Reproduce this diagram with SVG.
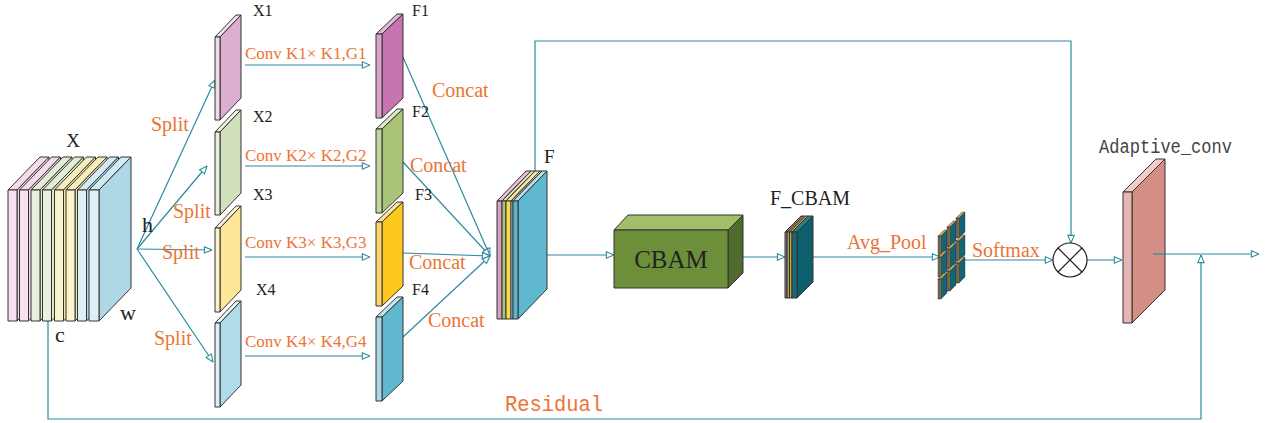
<svg xmlns="http://www.w3.org/2000/svg" width="1265" height="423" viewBox="0 0 1265 423">
<style>
.ln{stroke:#2b8ba0;stroke-width:1.2;fill:none}
.pl{stroke:#333;stroke-width:1;stroke-linejoin:round}
.tl{stroke:#333;stroke-width:0.4}
.or{fill:#ec7434;font-family:"Liberation Serif",serif}
.bk{fill:#222;font-family:"Liberation Serif",serif}
.mono{font-family:"Liberation Mono",monospace}
</style>
<defs>
<marker id="ah" viewBox="0 0 10 10" refX="9.5" refY="5" markerWidth="9" markerHeight="9" markerUnits="userSpaceOnUse" orient="auto">
<path d="M1,1.5 L9.5,5 L1,8.5 Z" fill="#fff" stroke="#2b8ba0" stroke-width="1.2"/>
</marker>
<g id="tile">
<polygon class="tl" points="0,0 6,-6 9,-6 3,0" fill="#d8a040"/>
<rect class="tl" x="0" y="0" width="1" height="20" fill="#c070b0"/>
<rect class="tl" x="1" y="0" width="1" height="20" fill="#8aaa4c"/>
<rect class="tl" x="2" y="0" width="1" height="20" fill="#e0a02c"/>
<polygon class="tl" points="3,0 9,-6 9,14 3,20" fill="#136474"/>
</g>
</defs>

<!-- connectors -->
<g id="connectors">
<path class="ln" d="M137,249 L215,80" marker-end="url(#ah)"/>
<path class="ln" d="M137,249 L207,166" marker-end="url(#ah)"/>
<path class="ln" d="M137,249 L212,250" marker-end="url(#ah)"/>
<path class="ln" d="M137,249 L213,362" marker-end="url(#ah)"/>
<path class="ln" d="M245,65 L370,65" marker-end="url(#ah)"/>
<path class="ln" d="M245,166 L370,166" marker-end="url(#ah)"/>
<path class="ln" d="M245,257 L370,257" marker-end="url(#ah)"/>
<path class="ln" d="M245,356 L370,356" marker-end="url(#ah)"/>
<path class="ln" d="M403,57 L490,256" marker-end="url(#ah)"/>
<path class="ln" d="M403,162 L490,256" marker-end="url(#ah)"/>
<path class="ln" d="M403,253 L490,256" marker-end="url(#ah)"/>
<path class="ln" d="M403,337 L490,256" marker-end="url(#ah)"/>
<path class="ln" d="M547,255 L614,255" marker-end="url(#ah)"/>
<path class="ln" d="M743,257 L785,257" marker-end="url(#ah)"/>
<path class="ln" d="M813,257 L940,257" marker-end="url(#ah)"/>
<path class="ln" d="M964,260 L1053,260" marker-end="url(#ah)"/>
<path class="ln" d="M1087,260 L1122,260" marker-end="url(#ah)"/>
<path class="ln" d="M535,172 L535,41 L1071,41 L1071,243" marker-end="url(#ah)"/>
<path class="ln" d="M1153,254 L1259,254" marker-end="url(#ah)"/>
<path class="ln" d="M48,321 L48,419 L1201,419 L1201,255" marker-end="url(#ah)"/>
</g>

<!-- X input stack -->
<g id="X">
<g><polygon class="pl" points="8,190 40,157 49,157 17,190" fill="#f3dbe9"/><polygon class="pl" points="17,190 49,157 49,288 17,321" fill="#f0d4e4"/><rect class="pl" x="8" y="190" width="9" height="131" fill="#f6e3ef"/></g>
<g><polygon class="pl" points="19.5,190 51.5,157 60.5,157 28.5,190" fill="#f3dbe9"/><polygon class="pl" points="28.5,190 60.5,157 60.5,288 28.5,321" fill="#f0d4e4"/><rect class="pl" x="19.5" y="190" width="9" height="131" fill="#f6e3ef"/></g>
<g><polygon class="pl" points="31,190 63,157 72,157 40,190" fill="#e3ecd5"/><polygon class="pl" points="40,190 72,157 72,288 40,321" fill="#dde7cc"/><rect class="pl" x="31" y="190" width="9" height="131" fill="#e9f1de"/></g>
<g><polygon class="pl" points="42.5,190 74.5,157 83.5,157 51.5,190" fill="#e3ecd5"/><polygon class="pl" points="51.5,190 83.5,157 83.5,288 51.5,321" fill="#dde7cc"/><rect class="pl" x="42.5" y="190" width="9" height="131" fill="#e9f1de"/></g>
<g><polygon class="pl" points="54.5,190 86.5,157 95.5,157 63.5,190" fill="#f9ecbd"/><polygon class="pl" points="63.5,190 95.5,157 95.5,288 63.5,321" fill="#f5e4aa"/><rect class="pl" x="54.5" y="190" width="9" height="131" fill="#fcf3cf"/></g>
<g><polygon class="pl" points="66,190 98,157 107,157 75,190" fill="#f9ecbd"/><polygon class="pl" points="75,190 107,157 107,288 75,321" fill="#f5e4aa"/><rect class="pl" x="66" y="190" width="9" height="131" fill="#fcf3cf"/></g>
<g><polygon class="pl" points="77.5,190 109.5,157 118.5,157 86.5,190" fill="#d2eaf3"/><polygon class="pl" points="86.5,190 118.5,157 118.5,288 86.5,321" fill="#aed8e6"/><rect class="pl" x="77.5" y="190" width="9" height="131" fill="#ddf0f7"/></g>
<g><polygon class="pl" points="89,190 121,157 131,157 99,190" fill="#d2eaf3"/><polygon class="pl" points="99,190 131,157 131,288 99,321" fill="#aed8e6"/><rect class="pl" x="89" y="190" width="10" height="131" fill="#ddf0f7"/></g>
<text class="bk" x="73" y="147" font-size="19" text-anchor="middle">X</text>
<text class="bk" x="142" y="232" font-size="22">h</text>
<text class="bk" x="120" y="320" font-size="22">w</text>
<text class="bk" x="55" y="342" font-size="22">c</text>
</g>

<!-- split labels -->
<g id="split-labels">
<text class="or" x="151" y="131" font-size="20">Split</text>
<text class="or" x="173" y="218" font-size="20">Split</text>
<text class="or" x="162" y="259" font-size="20">Split</text>
<text class="or" x="154" y="345" font-size="20">Split</text>
</g>

<!-- X1..X4 -->
<g id="X1"><polygon class="pl" points="215,37 236,15 241,15 220,37" fill="#f3e2ee"/><polygon class="pl" points="220,37 241,15 241,98 220,120" fill="#dcaed0"/><rect class="pl" x="215" y="37" width="5" height="83" fill="#efdbe9"/><text class="bk" x="253" y="16" font-size="16">X1</text></g>
<g id="X2"><polygon class="pl" points="215,132 236,110 241,110 220,132" fill="#eef3e6"/><polygon class="pl" points="220,132 241,110 241,193 220,215" fill="#d2e0bb"/><rect class="pl" x="215" y="132" width="5" height="83" fill="#e9efdc"/><text class="bk" x="253" y="122" font-size="16">X2</text></g>
<g id="X3"><polygon class="pl" points="215,228 236,206 241,206 220,228" fill="#fdf6dc"/><polygon class="pl" points="220,228 241,206 241,290 220,312" fill="#fde697"/><rect class="pl" x="215" y="228" width="5" height="84" fill="#fdf3cb"/><text class="bk" x="253" y="200" font-size="16">X3</text></g>
<g id="X4"><polygon class="pl" points="215,323 236,301 241,301 220,323" fill="#eaf5f9"/><polygon class="pl" points="220,323 241,301 241,385 220,407" fill="#b0dbe9"/><rect class="pl" x="215" y="323" width="5" height="84" fill="#e3f1f7"/><text class="bk" x="256" y="295" font-size="16">X4</text></g>

<!-- conv labels -->
<g id="conv-labels">
<text class="or" x="245" y="59" font-size="17">Conv K1× K1,G1</text>
<text class="or" x="245" y="161" font-size="17">Conv K2× K2,G2</text>
<text class="or" x="245" y="248" font-size="17">Conv K3× K3,G3</text>
<text class="or" x="245" y="347" font-size="17">Conv K4× K4,G4</text>
</g>

<!-- F1..F4 -->
<g id="F1"><polygon class="pl" points="376,34 397,14 403,14 382,34" fill="#e4b8d6"/><polygon class="pl" points="382,34 403,14 403,98 382,118" fill="#c774b1"/><rect class="pl" x="376" y="34" width="6" height="84" fill="#dba3cb"/><text class="bk" x="412" y="16" font-size="16">F1</text></g>
<g id="F2"><polygon class="pl" points="376,129 397,109 403,109 382,129" fill="#dce7c6"/><polygon class="pl" points="382,129 403,109 403,193 382,213" fill="#a9c476"/><rect class="pl" x="376" y="129" width="6" height="84" fill="#c3d6a0"/><text class="bk" x="412" y="117" font-size="16">F2</text></g>
<g id="F3"><polygon class="pl" points="376,222 397,202 403,202 382,222" fill="#fde39a"/><polygon class="pl" points="382,222 403,202 403,286 382,306" fill="#fec91f"/><rect class="pl" x="376" y="222" width="6" height="84" fill="#fbd56b"/><text class="bk" x="415" y="200" font-size="16">F3</text></g>
<g id="F4"><polygon class="pl" points="376,317 397,297 403,297 382,317" fill="#c8e6ef"/><polygon class="pl" points="382,317 403,297 403,381 382,401" fill="#5fb8cf"/><rect class="pl" x="376" y="317" width="6" height="84" fill="#a9d7e6"/><text class="bk" x="412" y="295" font-size="16">F4</text></g>

<!-- concat labels -->
<g id="concat-labels">
<text class="or" x="432" y="97" font-size="20">Concat</text>
<text class="or" x="410" y="172" font-size="20">Concat</text>
<text class="or" x="409" y="269" font-size="20">Concat</text>
<text class="or" x="428" y="327" font-size="20">Concat</text>
</g>

<!-- F stack -->
<g id="F">
<g><polygon class="pl" points="497,201 526,171 531,171 502,201" fill="#e7c1dc"/><polygon class="pl" points="502,201 531,171 531,289 502,319" fill="#d6a0c8"/><rect class="pl" x="497" y="201" width="5" height="118" fill="#d6a0c8"/></g>
<g><polygon class="pl" points="502,201 531,171 535,171 506,201" fill="#dbe7c4"/><polygon class="pl" points="506,201 535,171 535,289 506,319" fill="#a9c27a"/><rect class="pl" x="502" y="201" width="4" height="118" fill="#a9c27a"/></g>
<g><polygon class="pl" points="506,201 535,171 540,171 511,201" fill="#fde59a"/><polygon class="pl" points="511,201 540,171 540,289 511,319" fill="#fcd653"/><rect class="pl" x="506" y="201" width="5" height="118" fill="#fcd653"/></g>
<g><polygon class="pl" points="511,201 540,171 542,171 513,201" fill="#cfe8f0"/><rect class="pl" x="511" y="201" width="2" height="118" fill="#c5e4ee"/></g>
<g><polygon class="pl" points="513,201 542,171 547,171 518,201" fill="#b8dfea"/><polygon class="pl" points="518,201 547,171 547,289 518,319" fill="#5fb8cf"/><rect class="pl" x="513" y="201" width="5" height="118" fill="#5db7cc"/></g>
<text class="bk" x="544" y="163" font-size="19">F</text>
</g>

<!-- CBAM -->
<g id="CBAM">
<polygon class="pl" points="614,230 628,215 743,215 728,230" fill="#a3be6a"/>
<polygon class="pl" points="728,230 743,215 743,273 728,288" fill="#4f6b2d"/>
<rect class="pl" x="614" y="230" width="114" height="58" fill="#6e8f3a"/>
<text class="bk" x="671" y="268" font-size="25" text-anchor="middle">CBAM</text>
</g>

<!-- F_CBAM -->
<g id="F_CBAM">
<g><polygon class="pl" points="785,232 801,216 803,216 787,232" fill="#c070b0"/><rect class="pl" x="785" y="232" width="2" height="66" fill="#c070b0"/></g>
<g><polygon class="pl" points="787,232 803,216 805.5,216 789.5,232" fill="#8aaa4c"/><rect class="pl" x="787" y="232" width="2.5" height="66" fill="#8aaa4c"/></g>
<g><polygon class="pl" points="789.5,232 805.5,216 808,216 792,232" fill="#e0a02c"/><rect class="pl" x="789.5" y="232" width="2.5" height="66" fill="#e0a02c"/></g>
<g><polygon class="pl" points="792,232 808,216 813,216 797,232" fill="#2a7e8e"/><polygon class="pl" points="797,232 813,216 813,282 797,298" fill="#0f5e6e"/><rect class="pl" x="792" y="232" width="5" height="66" fill="#16697a"/></g>
<text class="bk" x="770" y="205" font-size="20">F_CBAM</text>
</g>

<text class="or" x="847" y="249" font-size="20">Avg_Pool</text>

<!-- pooled tiles -->
<g id="pooled">
<use href="#tile" x="938" y="236"/>
<use href="#tile" x="938" y="257"/>
<use href="#tile" x="938" y="279"/>
<use href="#tile" x="947" y="227"/>
<use href="#tile" x="947" y="249"/>
<use href="#tile" x="947" y="271"/>
<use href="#tile" x="956" y="218"/>
<use href="#tile" x="956" y="241"/>
<use href="#tile" x="956" y="263"/>
</g>

<text class="or" x="972" y="257" font-size="20">Softmax</text>

<!-- multiply -->
<g id="multiply">
<circle cx="1070" cy="260" r="17" fill="#fff" stroke="#222" stroke-width="1.2"/>
<path d="M1058,248 L1082,272 M1082,248 L1058,272" stroke="#222" stroke-width="1.2"/>
</g>

<!-- Adaptive conv -->
<g id="Adaptive_conv">
<polygon class="pl" points="1123,192 1156,159 1165,159 1132,192" fill="#f0ccc9"/>
<polygon class="pl" points="1132,192 1165,159 1165,290 1132,323" fill="#d48e86"/>
<rect class="pl" x="1123" y="192" width="9" height="131" fill="#e6b6b3"/>
<text class="mono" x="1099" y="153" font-size="20" fill="#444" textLength="133" lengthAdjust="spacingAndGlyphs">Adaptive_conv</text>
</g>
<path class="ln" d="M1153,254 L1165,254"/>

<text class="or mono" x="505" y="411" font-size="22" textLength="98" lengthAdjust="spacingAndGlyphs" style="font-family:'Liberation Mono',monospace">Residual</text>
</svg>
